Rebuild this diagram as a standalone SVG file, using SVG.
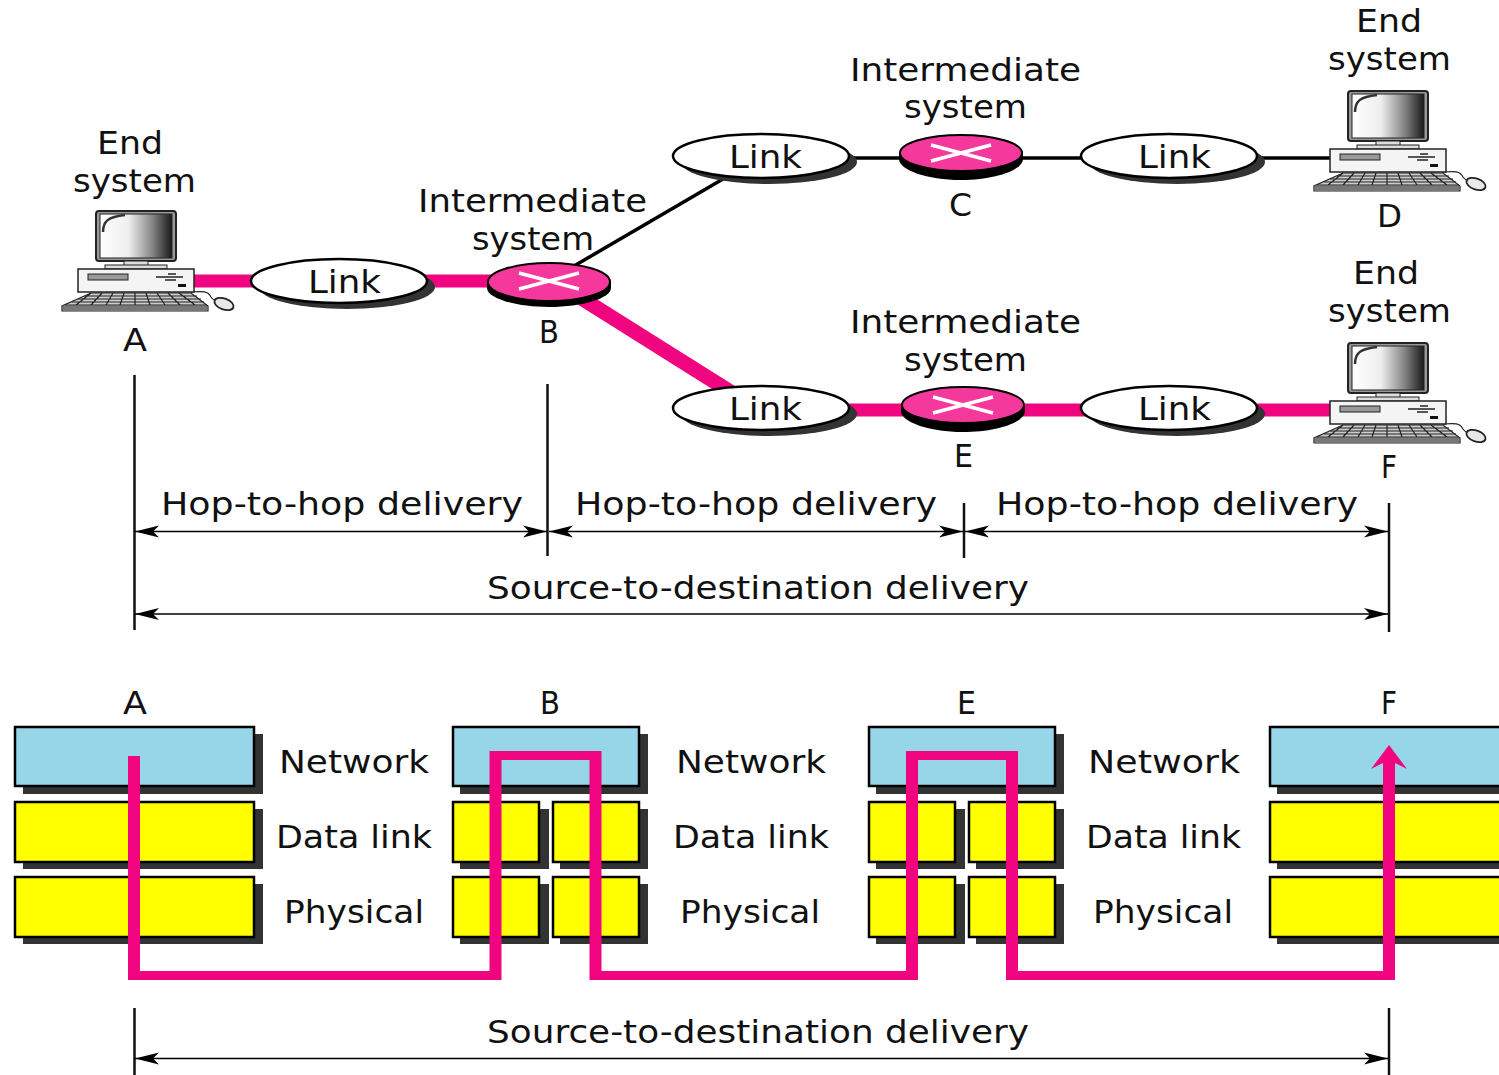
<svg xmlns="http://www.w3.org/2000/svg" xmlns:xlink="http://www.w3.org/1999/xlink" width="1499" height="1075" viewBox="0 0 1499 1075">
<style>
text{font-family:"DejaVu Sans","Liberation Sans",sans-serif;font-size:32px;fill:#111}
.thin{stroke:#111;stroke-width:2.5;fill:none}
.arr{stroke:#000;stroke-width:1.6;fill:none;marker-start:url(#as);marker-end:url(#ae)}
.pk{stroke:#f0047f;fill:none}
.blk{stroke:#000;stroke-width:3.5;fill:none}
.ls{fill:#333}
.le{fill:#fff;stroke:#000;stroke-width:2.5}
.net{fill:#97d6e8;stroke:#000;stroke-width:2.5}
.yel{fill:#ff0;stroke:#000;stroke-width:2.5}
.sh{fill:#333}
.rb{fill:#000}
.rt{fill:#f5389b;stroke:#000;stroke-width:2}
.rx{stroke:#fff;stroke-width:3.5;fill:none}
</style>
<defs>
<marker id="ae" markerUnits="userSpaceOnUse" markerWidth="24" markerHeight="14" refX="24" refY="7" orient="auto"><path d="M0 1L24 7L0 13L6 7Z" fill="#000"/></marker>
<marker id="as" markerUnits="userSpaceOnUse" markerWidth="24" markerHeight="14" refX="0" refY="7" orient="auto"><path d="M24 1L0 7L24 13L18 7Z" fill="#000"/></marker>
<linearGradient id="scr" x1="0" x2="1" y1="0" y2="0"><stop offset="0" stop-color="#fff"/><stop offset=".4" stop-color="#eee"/><stop offset=".72" stop-color="#888"/><stop offset="1" stop-color="#1a1a1a"/></linearGradient>
<g id="pc">
<path d="M191 292C203 291 208 291 211 297C213 300 214 300 216 301" fill="none" stroke="#222" stroke-width="1.2"/>
<ellipse cx="224" cy="304" rx="10" ry="5.5" transform="rotate(20 224 304)" fill="#e8e8e8" stroke="#222" stroke-width="1.8"/>
<rect x="96" y="211" width="80" height="50" rx="3" fill="#999" stroke="#222" stroke-width="2"/>
<rect x="100" y="214" width="72" height="44" fill="url(#scr)" stroke="#222" stroke-width="1"/>
<path d="M103 232C103 221 108 217 125 215" fill="none" stroke="#333" stroke-width="2.5"/>
<rect x="124" y="261" width="24" height="6" fill="#ddd" stroke="#222"/>
<rect x="105" y="265" width="62" height="4" fill="#ddd" stroke="#222"/>
<rect x="78" y="269" width="116" height="23" fill="#f4f4f4" stroke="#222" stroke-width="1.5"/>
<rect x="88" y="274" width="40" height="6" fill="#999" stroke="#222"/>
<path d="M156 277H183M168 274H176M165 280H176" stroke="#222" stroke-width="1.6" fill="none"/>
<rect x="178" y="284" width="8" height="3" fill="#111"/>
<path d="M91 293H191L208 306V311H62V306Z" fill="#ccc" stroke="#222" stroke-width="1.2"/>
<path d="M63 308H207" stroke="#777" stroke-width="5" fill="none"/>
<path d="M85 296H197M78 299H201M72 302H204M65 305H207M91 293L76 305M102 293L91 305M113 293L106 305M124 293L120 305M135 293L135 305M146 293L150 305M157 293L165 305M168 293L180 305M179 293L195 305" stroke="#222" stroke-width="1.2" fill="none"/>
</g>
</defs>
<rect width="1499" height="1075" fill="#fff"/>

<g id="connectors">
<path class="pk" stroke-width="13" d="M190 281H500"/>
<path class="pk" stroke-width="14.5" d="M570 291L745 401"/>
<path class="pk" stroke-width="13" d="M845 410H1332"/>
<path class="blk" d="M574 266L723 179"/>
<path class="blk" d="M845 158H1332"/>
<path class="thin" d="M134.500 375V630M547.500 384V556M964 503V558M1389 503V632M134.500 1008V1075M1389 1008V1075"/>
<path class="arr" d="M135 531.500H547"/>
<path class="arr" d="M549 531.500H963"/>
<path class="arr" d="M965 531.500H1388"/>
<path class="arr" d="M135 614H1388"/>
<path class="arr" d="M135 1058.500H1388"/>
</g>

<g id="node-a"><use href="#pc"/><text x="97" y="154" textLength="66" lengthAdjust="spacingAndGlyphs">End</text><text x="73" y="192" textLength="123" lengthAdjust="spacingAndGlyphs">system</text><text x="123" y="351" textLength="24" lengthAdjust="spacingAndGlyphs">A</text></g>
<g id="node-d"><use href="#pc" transform="translate(1252 -120)"/><text x="1356" y="32" textLength="66" lengthAdjust="spacingAndGlyphs">End</text><text x="1328" y="70" textLength="123" lengthAdjust="spacingAndGlyphs">system</text><text x="1377" y="227" textLength="25" lengthAdjust="spacingAndGlyphs">D</text></g>
<g id="node-f"><use href="#pc" transform="translate(1252 132)"/><text x="1353" y="284" textLength="66" lengthAdjust="spacingAndGlyphs">End</text><text x="1328" y="322" textLength="123" lengthAdjust="spacingAndGlyphs">system</text><text x="1381" y="478" textLength="16" lengthAdjust="spacingAndGlyphs">F</text></g>

<g id="link-ab"><ellipse class="ls" cx="347" cy="287" rx="88" ry="22"/><ellipse class="le" cx="339" cy="281" rx="88" ry="22"/><text x="308" y="293" textLength="73" lengthAdjust="spacingAndGlyphs">Link</text></g>
<g id="link-bc"><ellipse class="ls" cx="769" cy="162" rx="88" ry="22"/><ellipse class="le" cx="761" cy="156" rx="88" ry="22"/><text x="729" y="168" textLength="73" lengthAdjust="spacingAndGlyphs">Link</text></g>
<g id="link-cd"><ellipse class="ls" cx="1177" cy="162" rx="88" ry="22"/><ellipse class="le" cx="1169" cy="156" rx="88" ry="22"/><text x="1138" y="168" textLength="73" lengthAdjust="spacingAndGlyphs">Link</text></g>
<g id="link-be"><ellipse class="ls" cx="769" cy="414" rx="88" ry="22"/><ellipse class="le" cx="761" cy="408" rx="88" ry="22"/><text x="729" y="420" textLength="73" lengthAdjust="spacingAndGlyphs">Link</text></g>
<g id="link-ef"><ellipse class="ls" cx="1177" cy="414" rx="88" ry="22"/><ellipse class="le" cx="1169" cy="408" rx="88" ry="22"/><text x="1138" y="420" textLength="73" lengthAdjust="spacingAndGlyphs">Link</text></g>

<g id="node-b"><path class="rb" d="M487 282H611V288C611 298 583 307 549 307C515 307 487 298 487 288Z"/><ellipse class="rt" cx="549" cy="282" rx="61" ry="19"/><path class="rx" d="M519 273L579 289M519 289L579 273"/><text x="418" y="212" textLength="229" lengthAdjust="spacingAndGlyphs">Intermediate</text><text x="472" y="250" textLength="122" lengthAdjust="spacingAndGlyphs">system</text><text x="539" y="343" textLength="20" lengthAdjust="spacingAndGlyphs">B</text></g>
<g id="node-c"><path class="rb" d="M899 153H1023V159C1023 170 995 180 961 180C927 180 899 170 899 159Z"/><ellipse class="rt" cx="961" cy="153" rx="61" ry="18"/><path class="rx" d="M931 145L991 161M931 161L991 145"/><text x="850" y="81" textLength="231" lengthAdjust="spacingAndGlyphs">Intermediate</text><text x="904" y="118" textLength="123" lengthAdjust="spacingAndGlyphs">system</text><text x="949" y="216" textLength="23" lengthAdjust="spacingAndGlyphs">C</text></g>
<g id="node-e"><path class="rb" d="M901 405H1025V411C1025 422 997 432 963 432C929 432 901 422 901 411Z"/><ellipse class="rt" cx="963" cy="405" rx="61" ry="18"/><path class="rx" d="M933 397L993 413M933 413L993 397"/><text x="850" y="333" textLength="231" lengthAdjust="spacingAndGlyphs">Intermediate</text><text x="904" y="371" textLength="123" lengthAdjust="spacingAndGlyphs">system</text><text x="954" y="467" textLength="19" lengthAdjust="spacingAndGlyphs">E</text></g>

<g id="labels">
<text x="161" y="515" textLength="362" lengthAdjust="spacingAndGlyphs">Hop-to-hop delivery</text>
<text x="575" y="515" textLength="362" lengthAdjust="spacingAndGlyphs">Hop-to-hop delivery</text>
<text x="996" y="515" textLength="362" lengthAdjust="spacingAndGlyphs">Hop-to-hop delivery</text>
<text x="487" y="599" textLength="542" lengthAdjust="spacingAndGlyphs">Source-to-destination delivery</text>
<text x="487" y="1043" textLength="542" lengthAdjust="spacingAndGlyphs">Source-to-destination delivery</text>
</g>

<g id="stack-a">
<rect class="sh" x="23" y="734" width="240" height="60"/><rect class="sh" x="23" y="809" width="240" height="60"/><rect class="sh" x="23" y="884" width="240" height="60"/>
<rect class="net" x="15" y="727" width="239" height="59"/><rect class="yel" x="15" y="802" width="239" height="60"/><rect class="yel" x="15" y="877" width="239" height="60"/>
<text x="123" y="714" textLength="24" lengthAdjust="spacingAndGlyphs">A</text>
<text x="279" y="773" textLength="150" lengthAdjust="spacingAndGlyphs">Network</text><text x="276" y="848" textLength="156" lengthAdjust="spacingAndGlyphs">Data link</text><text x="284" y="923" textLength="140" lengthAdjust="spacingAndGlyphs">Physical</text>
</g>
<g id="stack-b">
<rect class="sh" x="460" y="734" width="188" height="60"/><rect class="sh" x="460" y="809" width="89" height="60"/><rect class="sh" x="560" y="809" width="88" height="60"/><rect class="sh" x="460" y="884" width="89" height="60"/><rect class="sh" x="560" y="884" width="88" height="60"/>
<rect class="net" x="453" y="727" width="186" height="59"/><rect class="yel" x="453" y="802" width="86" height="60"/><rect class="yel" x="553" y="802" width="86" height="60"/><rect class="yel" x="453" y="877" width="86" height="60"/><rect class="yel" x="553" y="877" width="86" height="60"/>
<text x="540" y="714" textLength="20" lengthAdjust="spacingAndGlyphs">B</text>
<text x="676" y="773" textLength="150" lengthAdjust="spacingAndGlyphs">Network</text><text x="673" y="848" textLength="156" lengthAdjust="spacingAndGlyphs">Data link</text><text x="680" y="923" textLength="140" lengthAdjust="spacingAndGlyphs">Physical</text>
</g>
<g id="stack-e">
<rect class="sh" x="876" y="734" width="188" height="60"/><rect class="sh" x="876" y="809" width="89" height="60"/><rect class="sh" x="976" y="809" width="88" height="60"/><rect class="sh" x="876" y="884" width="89" height="60"/><rect class="sh" x="976" y="884" width="88" height="60"/>
<rect class="net" x="869" y="727" width="186" height="59"/><rect class="yel" x="869" y="802" width="86" height="60"/><rect class="yel" x="969" y="802" width="86" height="60"/><rect class="yel" x="869" y="877" width="86" height="60"/><rect class="yel" x="969" y="877" width="86" height="60"/>
<text x="957" y="714" textLength="19" lengthAdjust="spacingAndGlyphs">E</text>
<text x="1088" y="773" textLength="152" lengthAdjust="spacingAndGlyphs">Network</text><text x="1086" y="848" textLength="155" lengthAdjust="spacingAndGlyphs">Data link</text><text x="1093" y="923" textLength="140" lengthAdjust="spacingAndGlyphs">Physical</text>
</g>
<g id="stack-f">
<rect class="sh" x="1277" y="734" width="230" height="60"/><rect class="sh" x="1277" y="809" width="230" height="60"/><rect class="sh" x="1277" y="884" width="230" height="60"/>
<rect class="net" x="1270" y="727" width="235" height="59"/><rect class="yel" x="1270" y="802" width="235" height="60"/><rect class="yel" x="1270" y="877" width="235" height="60"/>
<text x="1381" y="714" textLength="16" lengthAdjust="spacingAndGlyphs">F</text>
</g>
<g id="route">
<path fill="#f0047f" d="M128 756H140V971H489.500V751H601.500V971H906V751H1018V971H1383V763L1371 769L1389 745L1407 769L1395 763V980H1006V760H918V980H589.500V760H501.500V980H128Z"/>
</g>
</svg>
